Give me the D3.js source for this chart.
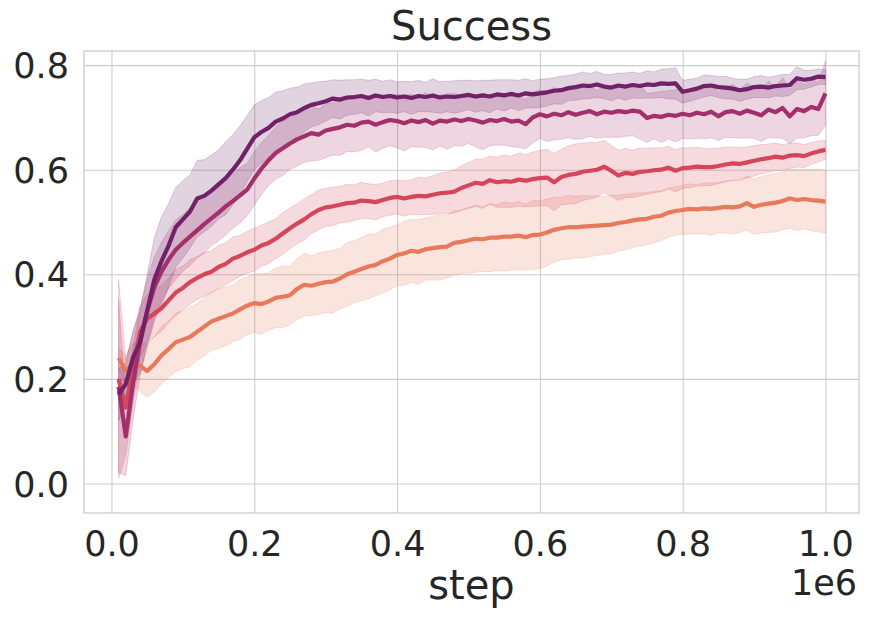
<!DOCTYPE html>
<html>
<head>
<meta charset="utf-8">
<script src="https://cdn.jsdelivr.net/npm/d3@7"></script>
<style>
  body { margin: 0; background: #fff; }
  svg { display: block; font-family: "DejaVu Sans", sans-serif; }
</style>
</head>
<body>
<svg id="chart" width="869" height="620"></svg>
<script>
// training steps (x)
const steps = [
  10000, 20000, 30000, 40000, 50000, 60000, 70000, 80000, 90000, 100000,
  110000, 120000, 130000, 140000, 150000, 160000, 170000, 180000, 190000, 200000,
  210000, 220000, 230000, 240000, 250000, 260000, 270000, 280000, 290000, 300000,
  310000, 320000, 330000, 340000, 350000, 360000, 370000, 380000, 390000, 400000,
  410000, 420000, 430000, 440000, 450000, 460000, 470000, 480000, 490000, 500000,
  510000, 520000, 530000, 540000, 550000, 560000, 570000, 580000, 590000, 600000,
  610000, 620000, 630000, 640000, 650000, 660000, 670000, 680000, 690000, 700000,
  710000, 720000, 730000, 740000, 750000, 760000, 770000, 780000, 790000, 800000,
  810000, 820000, 830000, 840000, 850000, 860000, 870000, 880000, 890000, 900000,
  910000, 920000, 930000, 940000, 950000, 960000, 970000, 980000, 990000, 1000000
];

// mean success per run
const purpleMean = [
  .17, .19, .24, .27, .33, .39, .425, .455, .49, .505,
  .52, .545, .55, .56, .572, .584, .60, .618, .64, .662,
  .672, .68, .692, .698, .706, .71, .718, .724, .727, .731,
  .736, .734, .738, .739, .741, .737, .742, .739, .741, .738,
  .740, .737, .741, .739, .742, .738, .740, .739, .741, .743,
  .740, .742, .740, .744, .742, .745, .742, .746, .744, .746,
  .748, .751, .752, .756, .758, .761, .760, .763, .759, .757,
  .761, .759, .762, .760, .763, .762, .765, .764, .765, .749,
  .752, .755, .760, .761, .758, .757, .755, .752, .754, .758,
  .759, .757, .760, .761, .762, .775, .772, .774, .778, .777
];
const magentaMean = [
  .185, .09, .19, .27, .33, .375, .405, .428, .447, .46,
  .472, .484, .496, .507, .518, .53, .54, .551, .562, .583,
  .602, .618, .632, .641, .65, .658, .664, .67, .667, .675,
  .678, .681, .686, .684, .69, .692, .686, .691, .695, .693,
  .689, .694, .691, .695, .688, .694, .692, .696, .693, .697,
  .694, .69, .695, .693, .697, .692, .694, .687, .70, .706,
  .702, .707, .704, .71, .705, .709, .712, .706, .711, .709,
  .712, .71, .713, .711, .699, .703, .701, .705, .703, .707,
  .704, .709, .706, .711, .702, .71, .712, .707, .713, .709,
  .704, .715, .71, .718, .702, .716, .712, .72, .716, .746
];
const redMean = [
  .20, .145, .22, .29, .315, .325, .335, .35, .365, .374,
  .385, .393, .40, .405, .414, .42, .43, .435, .442, .447,
  .455, .46, .468, .478, .488, .497, .505, .515, .523, .528,
  .53, .533, .536, .537, .541, .54, .538, .542, .546, .548,
  .545, .548, .55, .549, .552, .555, .556, .558, .565, .57,
  .575, .573, .58, .576, .578, .577, .581, .579, .582, .584,
  .585, .576, .586, .59, .592, .596, .598, .60, .606, .598,
  .589, .594, .592, .596, .597, .599, .60, .604, .598, .603,
  .604, .606, .605, .605, .607, .61, .612, .611, .614, .617,
  .62, .622, .625, .623, .627, .628, .626, .631, .635, .638
];
const orangeMean = [
  .24, .215, .228, .225, .215, .228, .245, .257, .27, .275,
  .28, .29, .30, .31, .315, .32, .325, .333, .34, .345,
  .343, .348, .355, .357, .36, .372, .38, .378, .382, .385,
  .386, .392, .40, .405, .41, .415, .418, .425, .43, .437,
  .44, .445, .443, .448, .45, .452, .453, .46, .462, .465,
  .468, .467, .47, .47, .472, .472, .474, .471, .475, .476,
  .48, .485, .488, .49, .49, .491, .492, .493, .494, .495,
  .498, .50, .503, .505, .506, .51, .512, .518, .521, .523,
  .525, .524, .526, .525, .527, .529, .528, .53, .536, .529,
  .533, .535, .537, .54, .545, .542, .544, .542, .541, .539
];

// half width of the shaded band
const purpleErr = [
  .05, .04, .05, .06, .07, .08, .085, .08, .076, .074,
  .07, .073, .069, .068, .066, .07, .067, .066, .063, .062,
  .06, .058, .056, .053, .05, .048, .046, .042, .041, .038,
  .036, .037, .034, .033, .032, .034, .031, .03, .031, .03,
  .029, .031, .03, .028, .032, .03, .029, .031, .03, .028,
  .03, .029, .031, .028, .03, .027, .029, .028, .026, .027,
  .026, .025, .027, .024, .025, .026, .024, .025, .023, .025,
  .024, .026, .025, .024, .026, .025, .027, .029, .03, .022,
  .021, .02, .021, .019, .02, .022, .02, .021, .019, .02,
  .021, .02, .019, .021, .02, .022, .018, .016, .015, .014
];
const magentaErr = [
  .165, .075, .07, .065, .06, .058, .056, .055, .057, .054,
  .055, .053, .056, .052, .054, .055, .052, .053, .05, .051,
  .05, .048, .05, .052, .049, .051, .05, .053, .049, .052,
  .05, .054, .051, .05, .053, .048, .052, .05, .049, .051,
  .053, .05, .048, .052, .05, .049, .053, .05, .048, .047,
  .05, .052, .049, .046, .05, .048, .051, .047, .049, .046,
  .048, .05, .046, .049, .047, .05, .048, .046, .049, .047,
  .05, .046, .048, .052, .047, .044, .049, .046, .05, .047,
  .045, .049, .047, .05, .046, .048, .051, .047, .052, .049,
  .05, .054, .049, .058, .052, .056, .051, .055, .05, .062
];
const redErr = [
  .19, .09, .07, .05, .046, .045, .044, .043, .045, .042,
  .043, .041, .042, .04, .041, .04, .042, .039, .04, .041,
  .039, .04, .038, .04, .039, .038, .04, .037, .038, .036,
  .037, .035, .036, .034, .035, .033, .034, .032, .033, .032,
  .034, .033, .036, .035, .037, .038, .04, .041, .043, .044,
  .045, .047, .046, .048, .05, .049, .051, .05, .052, .053,
  .054, .055, .053, .056, .057, .055, .054, .052, .05, .049,
  .048, .047, .045, .046, .044, .043, .042, .041, .04, .039,
  .038, .037, .036, .035, .034, .033, .032, .031, .03, .029,
  .028, .027, .026, .025, .024, .023, .022, .021, .02, .018
];
const orangeErr = [
  .02, .03, .04, .05, .05, .053, .055, .054, .056, .055,
  .057, .054, .056, .055, .057, .056, .054, .057, .055, .056,
  .058, .055, .057, .059, .056, .058, .06, .057, .059, .058,
  .06, .058, .061, .059, .06, .062, .059, .061, .06, .058,
  .061, .06, .062, .059, .061, .063, .06, .062, .061, .063,
  .064, .062, .065, .063, .066, .064, .065, .063, .066, .065,
  .064, .062, .06, .061, .059, .06, .058, .057, .055, .056,
  .054, .053, .052, .051, .05, .049, .048, .047, .046, .047,
  .048, .047, .049, .05, .048, .05, .051, .05, .052, .053,
  .054, .055, .056, .055, .057, .058, .057, .059, .06, .06
];

const xTicks = [0, 200000, 400000, 600000, 800000, 1000000];
const xTickLabels = ["0.0", "0.2", "0.4", "0.6", "0.8", "1.0"];
const yTicks = [0, 0.2, 0.4, 0.6, 0.8];
const yTickLabels = ["0.0", "0.2", "0.4", "0.6", "0.8"];

const runs = [
  { color: "#e8795a", mean: orangeMean, err: orangeErr },
  { color: "#d6465a", mean: redMean, err: redErr },
  { color: "#a3306b", mean: magentaMean, err: magentaErr },
  { color: "#702167", mean: purpleMean, err: purpleErr }
];

const plot = { left: 84, right: 859, top: 51, bottom: 513 };
const gridColor = "#cccccc";
const ink = "#262626";

const svg = d3.select("#chart");

const x = d3.scaleLinear().domain([-38500, 1047000]).range([plot.left, plot.right]);
const y = d3.scaleLinear().domain([-0.0565, 0.827]).range([plot.bottom, plot.top]);

// grid + tick labels
const gx = svg.append("g")
  .attr("transform", `translate(0,${plot.bottom})`)
  .call(d3.axisBottom(x)
    .tickValues(xTicks)
    .tickFormat((d, i) => xTickLabels[i])
    .tickSize(-(plot.bottom - plot.top)));
gx.attr("font-family", null).attr("font-size", null);
gx.select(".domain").remove();
gx.selectAll("line").attr("stroke", gridColor).attr("stroke-width", 1.1);
gx.selectAll("text")
  .attr("y", 43).attr("dy", null)
  .attr("fill", ink)
  .style("font-size", "35px");

const gy = svg.append("g")
  .attr("transform", `translate(${plot.left},0)`)
  .call(d3.axisLeft(y)
    .tickValues(yTicks)
    .tickFormat((d, i) => yTickLabels[i])
    .tickSize(-(plot.right - plot.left)));
gy.attr("font-family", null).attr("font-size", null);
gy.select(".domain").remove();
gy.selectAll("line").attr("stroke", gridColor).attr("stroke-width", 1.1);
gy.selectAll("text")
  .attr("x", -15).attr("dy", "0.36em")
  .attr("fill", ink)
  .style("font-size", "35px");

// bands + mean lines
const area = d3.area()
  .x((d, i) => x(steps[i]))
  .y0(d => y(d[0] - d[1]))
  .y1(d => y(d[0] + d[1]));

const line = d3.line()
  .x((d, i) => x(steps[i]))
  .y(d => y(d));

runs.forEach(r => {
  const band = r.mean.map((m, i) => [m, r.err[i]]);
  svg.append("path")
    .datum(band)
    .attr("d", area)
    .attr("fill", r.color)
    .attr("fill-opacity", 0.2)
    .attr("stroke", r.color)
    .attr("stroke-opacity", 0.2)
    .attr("stroke-width", 1);
});

runs.forEach(r => {
  svg.append("path")
    .datum(r.mean)
    .attr("d", line)
    .attr("fill", "none")
    .attr("stroke", r.color)
    .attr("stroke-width", 4.2)
    .attr("stroke-linejoin", "round");
});

// frame
svg.append("rect")
  .attr("x", plot.left).attr("y", plot.top)
  .attr("width", plot.right - plot.left)
  .attr("height", plot.bottom - plot.top)
  .attr("fill", "none")
  .attr("stroke", gridColor)
  .attr("stroke-width", 1.3);

// texts
svg.append("text")
  .attr("x", (plot.left + plot.right) / 2).attr("y", 40)
  .attr("text-anchor", "middle")
  .attr("fill", ink)
  .style("font-size", "40px")
  .text("Success");

svg.append("text")
  .attr("x", (plot.left + plot.right) / 2).attr("y", 599)
  .attr("text-anchor", "middle")
  .attr("fill", ink)
  .style("font-size", "40px")
  .text("step");

svg.append("text")
  .attr("x", 857).attr("y", 595)
  .attr("text-anchor", "end")
  .attr("fill", ink)
  .style("font-size", "35px")
  .text("1e6");
</script>
</body>
</html>
